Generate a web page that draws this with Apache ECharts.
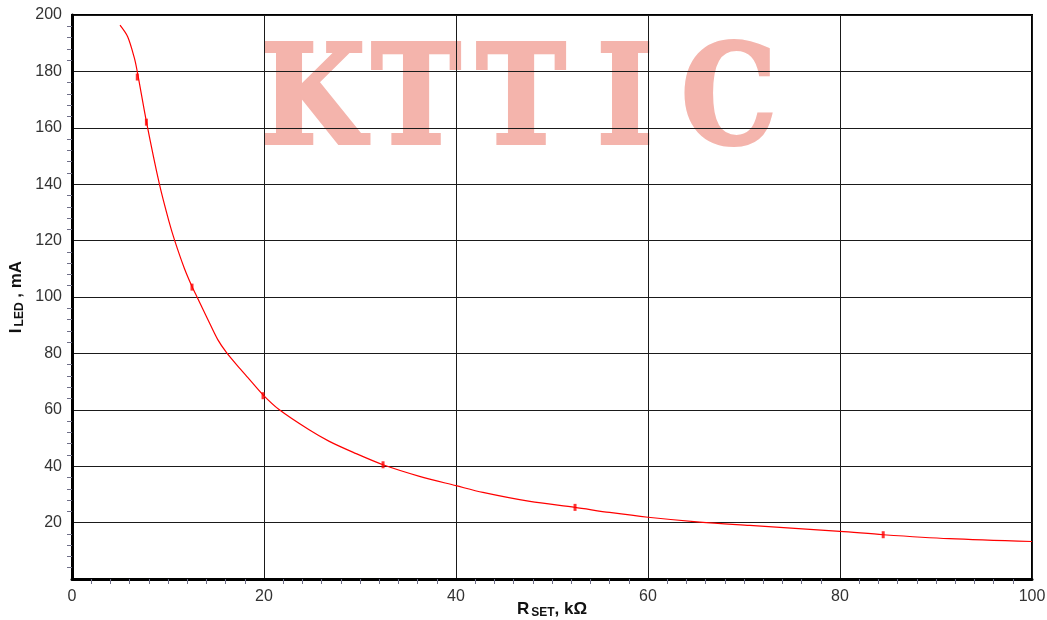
<!DOCTYPE html>
<html>
<head>
<meta charset="utf-8">
<title>ILED vs RSET</title>
<script src="https://cdn.jsdelivr.net/npm/echarts@6/dist/echarts.min.js"></script>
<style>
  html, body { margin: 0; padding: 0; background: #fff; }
  #chart { width: 1047px; height: 620px; }
</style>
</head>
<body>
<div id="chart"></div>
<script>
// R_SET (kΩ) / I_LED (mA)
const rsetValues = [5.0, 5.8, 6.5, 6.8, 7.75, 9.1, 10.1, 10.7, 11.7, 12.5, 13.0, 14.2, 15.2, 16.1, 17.5, 18.3, 19.9, 21.6,
  24.7, 26.8, 29.3, 32.4, 36.2, 40.0, 42.8, 47.7, 52.4, 56.0, 60.0, 65.4, 70.6, 80.0, 84.5, 91.4, 100]
const iledValues = [196.4, 192.3, 184.7, 179.9, 162.2, 140.1, 126.8, 120.0, 110.2, 103.7, 100.2, 91.7, 84.8, 80.3, 74.6, 71.5, 65.3, 60.0,
  52.9, 48.8, 44.9, 40.5, 36.4, 33.1, 30.7, 27.5, 25.4, 23.6, 21.9, 20.2, 19.0, 16.9, 15.7, 14.3, 13.3]

// measured points (small marks on the curve)
const markRset = [6.8, 7.75, 12.5, 19.9, 32.4, 52.4, 84.5]
const markIled = [178, 162, 103.5, 65, 40.5, 25.4, 15.7]

const watermark = 'KTTIC'

const myChart = echarts.init(document.getElementById('chart'))

let curve = rsetValues.map((r, i) => [r, iledValues[i]])
let marks = markRset.map((r, i) => [r, markIled[i]])

// watermark letters, one per monospace cell
let letterCenters = [313, 416, 521, 625, 729]
let watermarkItems = watermark.split('').map((ch, i) => ({
  type: 'text',
  z: -10,
  x: letterCenters[i],
  y: 108,
  scaleX: 0.88,
  silent: true,
  style: {
    text: ch,
    x: 0,
    y: 0,
    align: 'center',
    verticalAlign: 'middle',
    fontFamily: 'DejaVu Serif, serif',
    fontWeight: 'bold',
    fontSize: 136,
    fill: '#f4b4ac',
    stroke: '#f4b4ac',
    lineWidth: 4
  }
}))

let axisFont = {
  fontFamily: 'Liberation Sans, Arial, sans-serif',
  fontSize: 16,
  color: '#333'
}
let nameRich = {
  m: { fontFamily: 'Liberation Sans', fontWeight: 'bold', fontSize: 17, color: '#111' },
  s: { fontFamily: 'Liberation Sans', fontWeight: 'bold', fontSize: 12, color: '#111', padding: [8, 0, 0, 2] }
}

let option = {
  backgroundColor: '#fff',
  animation: false,
  grid: {
    left: 72,
    right: 15,
    top: 15,
    bottom: 41,
    outerBoundsMode: 'none',
    containLabel: false,
    show: true,
    borderColor: '#000',
    borderWidth: 2
  },
  graphic: watermarkItems,
  xAxis: {
    type: 'value',
    min: 0,
    max: 100,
    interval: 20,
    name: '{m|R}{s|SET}{m|, kΩ}',
    nameLocation: 'middle',
    nameGap: 20,
    nameMoveOverlap: false,
    nameTextStyle: { rich: nameRich },
    axisLine: { lineStyle: { color: '#000', width: 3 } },
    axisTick: { show: false },
    minorTick: { show: true, splitNumber: 10, length: 5, lineStyle: { color: '#6f6f88' } },
    axisLabel: Object.assign({ margin: 10 }, axisFont),
    splitLine: { lineStyle: { color: '#1a1a1a', width: 1 } }
  },
  yAxis: {
    type: 'value',
    min: 0,
    max: 200,
    interval: 20,
    name: '{m|I}{s|LED}{m| , mA}',
    nameLocation: 'middle',
    nameGap: 46,
    nameMoveOverlap: false,
    nameTextStyle: { rich: nameRich },
    axisLine: { show: true, lineStyle: { color: '#000', width: 3 } },
    axisTick: { show: false },
    minorTick: { show: true, splitNumber: 5, length: 5, lineStyle: { color: '#6f6f88' } },
    axisLabel: Object.assign({
      margin: 10,
      formatter: v => (v === 0 ? '' : v)
    }, axisFont),
    splitLine: { lineStyle: { color: '#1a1a1a', width: 1 } }
  },
  series: [{
    type: 'line',
    data: curve,
    smooth: 0.3,
    showSymbol: false,
    lineStyle: { color: '#ff0000', width: 1.2 }
  }, {
    type: 'scatter',
    data: marks,
    symbol: 'rect',
    symbolSize: [3, 7],
    itemStyle: { color: '#ff0000' }
  }]
}
myChart.setOption(option)
</script>
</body>
</html>
